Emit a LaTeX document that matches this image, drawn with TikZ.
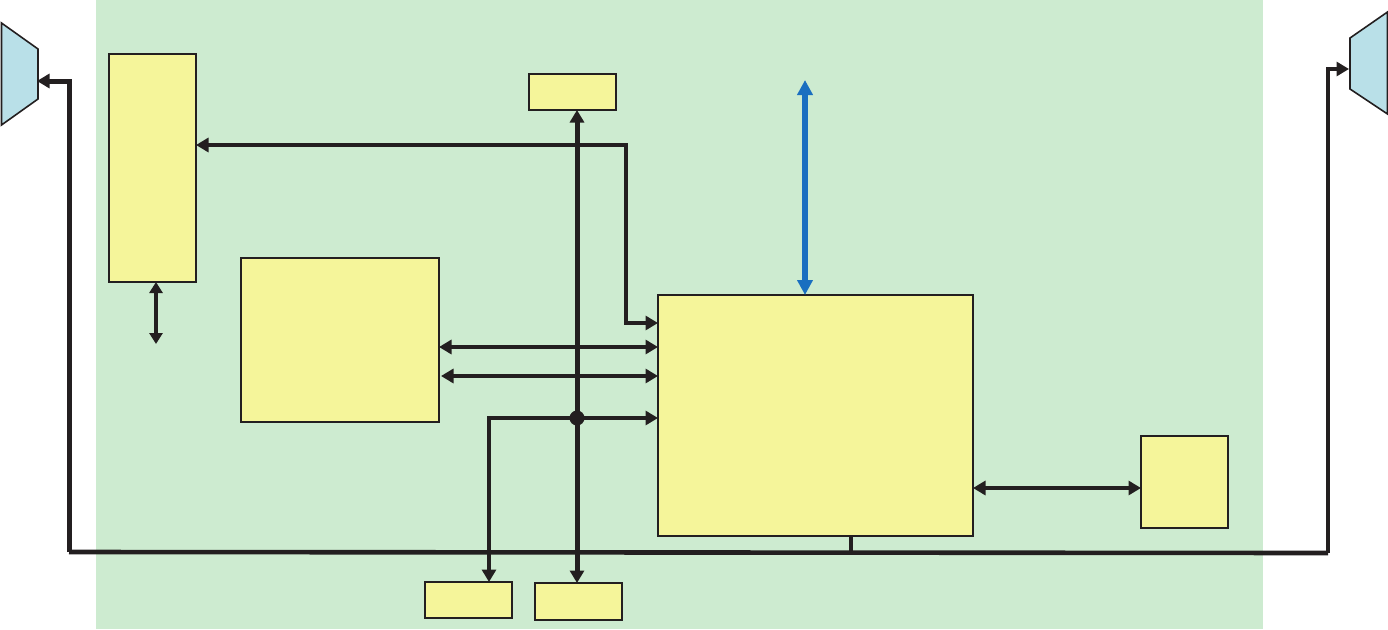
\documentclass[tikz,border=0pt]{standalone}
\usetikzlibrary{arrows.meta,positioning}
\definecolor{bggreen}{HTML}{CDEBD0}
\definecolor{boxyellow}{HTML}{F5F59A}
\definecolor{ltblue}{HTML}{B9E0E8}
\definecolor{ink}{HTML}{231F20}
\definecolor{busblue}{HTML}{1A6FC0}
\tikzset{
  x=1pt,y=-1pt,
  blockbox/.style={draw=ink,fill=boxyellow,line width=2.2pt,rectangle,inner sep=0pt,outer sep=0pt,anchor=north west,minimum width=#1},
  blockbox/.default=87pt,
  wire/.style={draw=ink,line width=4.6pt,line join=miter},
  oneway/.style={wire,-{Triangle[length=12.5pt,width=14pt]}},
  twoway/.style={wire,{Triangle[length=12.5pt,width=14pt]}-{Triangle[length=12.5pt,width=14pt]}},
  horn/.style={draw=ink,fill=ltblue,line width=1.6pt,line join=miter},
}
\begin{document}
\begin{tikzpicture}
\useasboundingbox (0,0) rectangle (1388,629);
\fill[bggreen] (96,0) rectangle (1263,629);

% horns
\draw[horn] (1.5,23) -- (38,49) -- (38,99) -- (1.5,125) -- cycle;
\draw[horn] (1350,38) -- (1387.5,12) -- (1387.5,114) -- (1350,89) -- cycle;

% blocks
\node[blockbox=87pt,minimum height=228pt] (a) at (109,54) {};
\node[blockbox=198pt,minimum height=164pt] (b) at (241,258) {};
\node[blockbox=87pt,minimum height=36pt] (c) at (529,74) {};
\node[blockbox=315pt,minimum height=241pt] (d) at (658,295) {};
\node[blockbox=87pt,minimum height=92pt] (e) at (1141,436) {};
\node[blockbox=87pt,minimum height=36pt] (f) at (425,582) {};
\node[blockbox=87pt,minimum height=37pt] (g) at (535,583) {};

% free ends, bends and levels
\coordinate (hornL) at (37,81);
\coordinate (hornR) at (1349,69);
\coordinate (busL) at (69,552);
\coordinate (busR) at (1328,553);
\coordinate (hornLb) at (69,81);
\coordinate (hornRb) at (1328,69);
\coordinate (stub) at (851,552.5);
\coordinate (aEnd) at (156,344);
\coordinate (blueEnd) at (805,80);
\coordinate (hub) at (577,418);
\coordinate (ctl) at (626,145);
\coordinate (ctlb) at (626,323);
\coordinate (fb) at (489,418);
\coordinate (lvlA) at (441,347);
\coordinate (lvlB) at (441,376);
\coordinate (lvlC) at (1000,488);

% main bus
\draw[wire] (busL) -- (busR);
\draw[oneway,line width=5pt] (busL) -- (hornLb) -- (hornL);
\draw[oneway] (busR) -- (hornRb) -- (hornR);
\draw[wire,line width=4.2pt] (d.south -| stub) -- (stub);

% vertical trunk
\draw[twoway,line width=5pt] (c.south -| hub) -- (g.north -| hub);

% links
\draw[twoway] (ctl -| a.east) -- (ctl) -- (ctlb) -- (ctlb -| d.west);
\draw[twoway] (lvlA -| b.east) -- (lvlA -| d.west);
\draw[twoway,line width=4.2pt] (lvlB) -- (lvlB -| d.west);
\draw[oneway,line width=4.2pt] (hub) -- (hub -| d.west);
\draw[oneway,line width=4.2pt] (hub) -- (fb) -- (f.north -| fb);
\draw[twoway,line width=4.2pt] (lvlC -| d.east) -- (lvlC -| e.west);
\draw[wire,line width=4pt,{Triangle[length=11pt,width=13pt]}-{Triangle[length=11pt,width=13pt]}] (a.south -| aEnd) -- (aEnd);
\draw[draw=busblue,line width=5.2pt,{Triangle[length=15pt,width=15pt]}-{Triangle[length=15pt,width=15pt]}] (blueEnd) -- (d.north -| blueEnd);

\fill[ink] (hub) circle (7.5pt);
\end{tikzpicture}
\end{document}
